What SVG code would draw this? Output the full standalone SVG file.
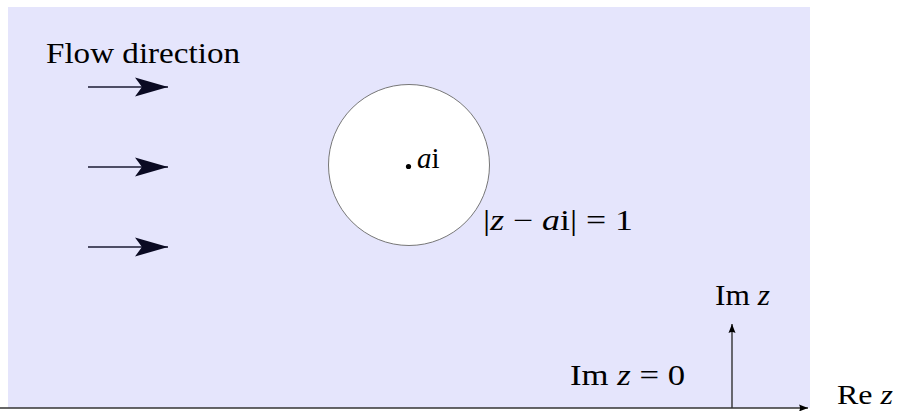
<svg xmlns="http://www.w3.org/2000/svg" width="898" height="411" viewBox="0 0 898 411">
<style>
text{font-family:"Liberation Serif","DejaVu Serif",serif;font-size:29px;fill:#000}
.it{font-style:italic}
.flow{stroke:#1a1a33;stroke-width:1.4;fill:none}
.axis{stroke:#333;stroke-width:1.4;fill:none}
</style>
<defs>
<marker id="stealth" markerUnits="userSpaceOnUse" markerWidth="36" markerHeight="22" refX="33" refY="10" orient="auto" viewBox="0 0 36 22">
<path d="M33,10 L0,0.5 L7,10 L0,19.5 Z" fill="#0a0a22"/>
</marker>
<marker id="tip" markerUnits="userSpaceOnUse" markerWidth="10" markerHeight="10" refX="9" refY="4" orient="auto" viewBox="0 0 10 8">
<path d="M9,4 L0,0.5 Q2,4 0,7.5 Z" fill="#000"/>
</marker>
</defs>
<rect id="domain" x="8" y="7" width="802" height="401" fill="#E5E5FC"/>
<g id="cylinder">
<circle cx="409" cy="165" r="80.5" fill="#fff" stroke="#777" stroke-width="1"/>
<circle cx="408.5" cy="166.5" r="2.6" fill="#000"/>
<text x="417" y="168" font-family="Liberation Serif, DejaVu Serif, serif"><tspan class="it">a</tspan>i</text>
</g>
<g id="labels" font-family="Liberation Serif, DejaVu Serif, serif">
<text x="46" y="63" textLength="194" lengthAdjust="spacingAndGlyphs">Flow direction</text>
<text x="483" y="230" textLength="150" lengthAdjust="spacingAndGlyphs">|<tspan class="it">z</tspan> − <tspan class="it">a</tspan>i| = 1</text>
<text x="715" y="305" textLength="55" lengthAdjust="spacingAndGlyphs">Im <tspan class="it">z</tspan></text>
<text x="570" y="385" textLength="115" lengthAdjust="spacingAndGlyphs">Im <tspan class="it">z</tspan> = 0</text>
<text x="837" y="404" textLength="56" lengthAdjust="spacingAndGlyphs" style="font-size:27px">Re <tspan class="it">z</tspan></text>
</g>
<g id="connectors">
<line class="flow" x1="88" y1="87" x2="168" y2="87" marker-end="url(#stealth)"/>
<line class="flow" x1="88" y1="167" x2="168" y2="167" marker-end="url(#stealth)"/>
<line class="flow" x1="88" y1="247" x2="168" y2="247" marker-end="url(#stealth)"/>
<line class="axis" x1="0" y1="408" x2="808" y2="408" marker-end="url(#tip)"/>
<line class="axis" x1="732" y1="408" x2="732" y2="324" marker-end="url(#tip)"/>
</g>
</svg>
